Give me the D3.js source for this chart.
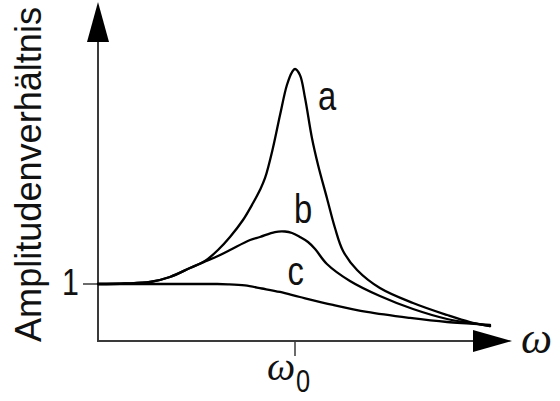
<!DOCTYPE html>
<html>
<head>
<meta charset="utf-8">
<script src="https://cdn.jsdelivr.net/npm/d3@7"></script>
<style>
  html, body { margin: 0; padding: 0; background: #fff; }
  svg { display: block; }
</style>
</head>
<body>
<svg id="chart" width="560" height="401"></svg>
<script>
// ---- data (x: ω/ω0, y: amplitude ratio) ----
const curveAx = [0, 0.137, 0.264, 0.365, 0.467, 0.543, 0.609, 0.670, 0.736, 0.787, 0.822, 0.848, 0.888, 0.924, 0.959, 0.985, 1.0, 1.025, 1.051, 1.086, 1.117, 1.162, 1.203, 1.244, 1.315, 1.431, 1.599, 1.772, 1.888, 1.990];
const curveAy = [1.0, 1.009, 1.035, 1.123, 1.281, 1.404, 1.596, 1.825, 2.123, 2.421, 2.649, 2.860, 3.386, 3.965, 4.491, 4.719, 4.772, 4.667, 4.263, 3.561, 3.088, 2.509, 1.982, 1.579, 1.246, 0.930, 0.667, 0.456, 0.333, 0.263];
const curveBx = [0, 0.137, 0.264, 0.365, 0.467, 0.543, 0.609, 0.670, 0.772, 0.822, 0.898, 0.949, 0.985, 1.025, 1.066, 1.102, 1.162, 1.279, 1.431, 1.599, 1.772, 1.888, 1.990];
const curveBy = [1.0, 1.009, 1.035, 1.123, 1.281, 1.395, 1.491, 1.596, 1.772, 1.825, 1.912, 1.921, 1.895, 1.825, 1.737, 1.614, 1.351, 1.053, 0.789, 0.561, 0.386, 0.316, 0.263];
const curveCx = [0, 0.33, 0.600, 0.660, 0.746, 0.832, 0.924, 1.025, 1.193, 1.365, 1.584, 1.772, 1.888, 1.990];
const curveCy = [1.0, 1.0, 1.0, 0.995, 0.974, 0.921, 0.860, 0.772, 0.632, 0.509, 0.404, 0.333, 0.307, 0.281];
const curveLabels = ["a", "b", "c"];
const labelPos = [[1.117, 4.053], [0.995, 2.07], [0.962, 0.982]]; // label anchors, data coords
const yTickValues = [1];
const yTickLabels = ["1"];
const xTickValues = [1];
const yAxisTitle = "Amplitudenverhältnis";
const xAxisTitle = "ω";
const xTickLabel = "ω";
const xTickSub = "0";

// ---- layout ----
const svg = d3.select("#chart");
const x = d3.scaleLinear().domain([0, 1]).range([98, 295]);
const y = d3.scaleLinear().domain([0, 1]).range([341, 284]);
const sansFont = "'Liberation Sans Narrow', 'Arial Narrow', 'Liberation Sans', sans-serif";
const serifFont = "'Liberation Serif', 'Times New Roman', serif";
const axisColor = "#3a3a3a";
const inkColor = "#111";

// axes lines
const xEnd = x.invert(476), yEnd = y.invert(40);
svg.append("line").attr("x1", x(0)).attr("y1", y(0)).attr("x2", x(xEnd)).attr("y2", y(0))
  .attr("stroke", axisColor).attr("stroke-width", 2);
svg.append("line").attr("x1", x(0)).attr("y1", y(0) + 1).attr("x2", x(0)).attr("y2", y(yEnd))
  .attr("stroke", axisColor).attr("stroke-width", 2);
// arrowheads
svg.append("path")
  .attr("d", `M${x(0)},2 L${x(0) - 11},42 L${x(0) + 11},42 Z`).attr("fill", "#000");
svg.append("path")
  .attr("d", `M512,${y(0)} L473,${y(0) - 11} L473,${y(0) + 11} Z`).attr("fill", "#000");

// condensed text helper
function condText(px, py, str, size, anchor) {
  return svg.append("g").attr("transform", `translate(${px},${py}) scale(0.82,1)`)
    .append("text").attr("x", 0).attr("y", 0).attr("text-anchor", anchor || "start")
    .attr("font-family", sansFont).attr("font-size", size).attr("fill", inkColor).text(str);
}

// y tick
yTickValues.forEach((v, i) => {
  svg.append("line").attr("x1", 83).attr("x2", x(0)).attr("y1", y(v)).attr("y2", y(v))
    .attr("stroke", axisColor).attr("stroke-width", 1.5);
  condText(79, y(v) + 11, yTickLabels[i], 37, "end");
});
// x tick
xTickValues.forEach(v => {
  svg.append("line").attr("x1", x(v)).attr("x2", x(v)).attr("y1", y(0)).attr("y2", y(0) + 15)
    .attr("stroke", axisColor).attr("stroke-width", 1.5);
  svg.append("text").attr("x", x(v) - 28).attr("y", 380)
    .attr("font-family", serifFont).attr("font-style", "italic").attr("font-size", 40)
    .attr("fill", inkColor).text(xTickLabel);
  condText(x(v) + 1, 392, xTickSub, 31, "start");
});

// axis titles
svg.append("text")
  .attr("transform", "translate(41,342) rotate(-90)")
  .attr("font-family", sansFont).attr("font-size", 37).attr("fill", inkColor)
  .attr("textLength", 335).attr("lengthAdjust", "spacingAndGlyphs")
  .text(yAxisTitle);
svg.append("text").attr("x", 521).attr("y", 353)
  .attr("font-family", serifFont).attr("font-style", "italic").attr("font-size", 44)
  .attr("fill", inkColor).text(xAxisTitle);

// curves
const line = d3.line().x(d => x(d[0])).y(d => y(d[1])).curve(d3.curveCatmullRom.alpha(0.5));
const series = [
  d3.zip(curveAx, curveAy),
  d3.zip(curveBx, curveBy),
  d3.zip(curveCx, curveCy)
];
series.forEach(s => {
  svg.append("path").attr("d", line(s)).attr("fill", "none")
    .attr("stroke", "#000").attr("stroke-width", 2.3).attr("stroke-linecap", "round")
    .attr("stroke-linejoin", "round");
});

// curve labels
curveLabels.forEach((l, i) => {
  condText(x(labelPos[i][0]), y(labelPos[i][1]), l, 40, "start");
});
</script>
</body>
</html>
